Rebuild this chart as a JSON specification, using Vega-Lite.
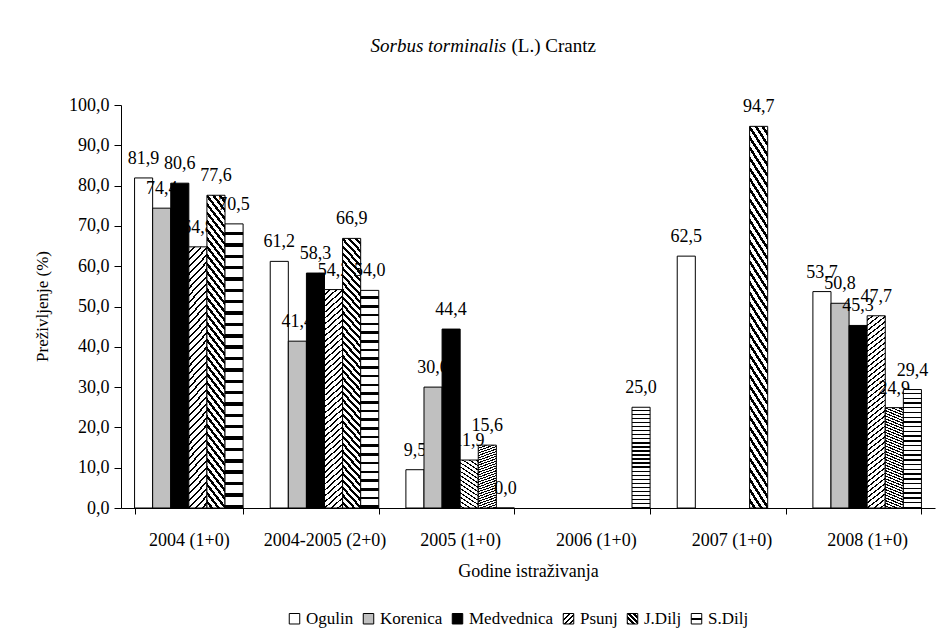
{
  "$schema": "https://vega.github.io/schema/vega-lite/v6.json",
  "width": 814,
  "height": 403,
  "autosize": {"type": "none"},
  "padding": {"left": 121, "top": 105, "right": 3, "bottom": 127},
  "background": "white",
  "resolve": {"axis": {"x": "independent"}},
  "config": {
    "locale": {"number": {"decimal": ",", "thousands": ".", "grouping": [3], "currency": ["", ""]}},
    "view": {"stroke": null},
    "axis": {
      "labelFont": "Liberation Serif",
      "titleFont": "Liberation Serif",
      "labelFontSize": 18,
      "titleFontSize": 18,
      "titleFontWeight": "normal",
      "labelColor": "black",
      "titleColor": "black",
      "domainColor": "black",
      "tickColor": "black",
      "grid": false
    }
  },
  "data": {
    "values": [
      {"year": "2004 (1+0)", "site": "Ogulin", "value": 81.9},
      {"year": "2004 (1+0)", "site": "Korenica", "value": 74.4},
      {"year": "2004 (1+0)", "site": "Medvednica", "value": 80.6},
      {"year": "2004 (1+0)", "site": "Psunj", "value": 64.8},
      {"year": "2004 (1+0)", "site": "J.Dilj", "value": 77.6},
      {"year": "2004 (1+0)", "site": "S.Dilj", "value": 70.5},
      {"year": "2004-2005 (2+0)", "site": "Ogulin", "value": 61.2},
      {"year": "2004-2005 (2+0)", "site": "Korenica", "value": 41.4},
      {"year": "2004-2005 (2+0)", "site": "Medvednica", "value": 58.3},
      {"year": "2004-2005 (2+0)", "site": "Psunj", "value": 54.2},
      {"year": "2004-2005 (2+0)", "site": "J.Dilj", "value": 66.9},
      {"year": "2004-2005 (2+0)", "site": "S.Dilj", "value": 54.0},
      {"year": "2005 (1+0)", "site": "Ogulin", "value": 9.5},
      {"year": "2005 (1+0)", "site": "Korenica", "value": 30.0},
      {"year": "2005 (1+0)", "site": "Medvednica", "value": 44.4},
      {"year": "2005 (1+0)", "site": "Psunj", "value": 11.9},
      {"year": "2005 (1+0)", "site": "J.Dilj", "value": 15.6},
      {"year": "2005 (1+0)", "site": "S.Dilj", "value": 0.0},
      {"year": "2006 (1+0)", "site": "S.Dilj", "value": 25.0},
      {"year": "2007 (1+0)", "site": "Ogulin", "value": 62.5},
      {"year": "2007 (1+0)", "site": "J.Dilj", "value": 94.7},
      {"year": "2008 (1+0)", "site": "Ogulin", "value": 53.7},
      {"year": "2008 (1+0)", "site": "Korenica", "value": 50.8},
      {"year": "2008 (1+0)", "site": "Medvednica", "value": 45.3},
      {"year": "2008 (1+0)", "site": "Psunj", "value": 47.7},
      {"year": "2008 (1+0)", "site": "J.Dilj", "value": 24.9},
      {"year": "2008 (1+0)", "site": "S.Dilj", "value": 29.4}
    ]
  },
  "encoding": {
    "x": {
      "field": "year",
      "type": "nominal",
      "sort": ["2004 (1+0)", "2004-2005 (2+0)", "2005 (1+0)", "2006 (1+0)", "2007 (1+0)", "2008 (1+0)"],
      "scale": {"domain": ["2004 (1+0)", "2004-2005 (2+0)", "2005 (1+0)", "2006 (1+0)", "2007 (1+0)", "2008 (1+0)"], "paddingInner": 0.2, "paddingOuter": 0.1},
      "axis": null
    },
    "xOffset": {
      "field": "site",
      "type": "nominal",
      "scale": {"domain": ["Ogulin", "Korenica", "Medvednica", "Psunj", "J.Dilj", "S.Dilj"], "paddingInner": 0, "paddingOuter": 0}
    },
    "y": {
      "field": "value",
      "type": "quantitative",
      "scale": {"domain": [0, 100], "nice": false},
      "axis": {"title": "Preživljenje (%)", "titleFontSize": 17, "values": [0, 10, 20, 30, 40, 50, 60, 70, 80, 90, 100], "format": ".1f", "tickSize": 7, "labelPadding": 5, "titleX": -79, "titleY": 201, "titleAlign": "center", "titleBaseline": "middle"}
    }
  },
  "layer": [
    {
      "transform": [{"filter": "datum.site === 'Ogulin'"}],
      "mark": {"type": "bar", "stroke": "black", "strokeWidth": 1, "opacity": 1},
      "encoding": {
        "x": {
          "field": "year",
          "type": "nominal",
          "sort": ["2004 (1+0)", "2004-2005 (2+0)", "2005 (1+0)", "2006 (1+0)", "2007 (1+0)", "2008 (1+0)"],
          "scale": {"domain": ["2004 (1+0)", "2004-2005 (2+0)", "2005 (1+0)", "2006 (1+0)", "2007 (1+0)", "2008 (1+0)"], "paddingInner": 0.2, "paddingOuter": 0.1},
          "axis": {"title": "Godine istraživanja", "labelAngle": 0, "tickBand": "extent", "tickSize": 6, "labelPadding": 17, "titlePadding": 13}
        },
        "fill": {
          "field": "site",
          "type": "nominal",
          "scale": {
            "domain": ["Ogulin", "Korenica", "Medvednica", "Psunj", "J.Dilj", "S.Dilj"],
            "range": [
              "#ffffff",
              "#c0c0c0",
              "#000000",
              {"expr": "{id: 'legPsunj', gradient: 'linear', x1: 0, y1: 0, x2: 1, y2: 1, stops: [{offset: 0, color: '#000'}, {offset: 0.1, color: '#000'}, {offset: 0.1, color: '#fff'}, {offset: 0.25, color: '#fff'}, {offset: 0.25, color: '#000'}, {offset: 0.35, color: '#000'}, {offset: 0.35, color: '#fff'}, {offset: 0.5, color: '#fff'}, {offset: 0.5, color: '#000'}, {offset: 0.6, color: '#000'}, {offset: 0.6, color: '#fff'}, {offset: 0.75, color: '#fff'}, {offset: 0.75, color: '#000'}, {offset: 0.85, color: '#000'}, {offset: 0.85, color: '#fff'}, {offset: 1, color: '#fff'}]}"},
              {"expr": "{id: 'legJDilj', gradient: 'linear', x1: 0, y1: 1, x2: 1, y2: 0, stops: [{offset: 0, color: '#000'}, {offset: 0.12, color: '#000'}, {offset: 0.12, color: '#fff'}, {offset: 0.25, color: '#fff'}, {offset: 0.25, color: '#000'}, {offset: 0.37, color: '#000'}, {offset: 0.37, color: '#fff'}, {offset: 0.5, color: '#fff'}, {offset: 0.5, color: '#000'}, {offset: 0.62, color: '#000'}, {offset: 0.62, color: '#fff'}, {offset: 0.75, color: '#fff'}, {offset: 0.75, color: '#000'}, {offset: 0.87, color: '#000'}, {offset: 0.87, color: '#fff'}, {offset: 1, color: '#fff'}]}"},
              {"expr": "{id: 'legSDilj', gradient: 'linear', x1: 0, y1: 0, x2: 0, y2: 1, stops: [{offset: 0, color: '#fff'}, {offset: 0.42, color: '#fff'}, {offset: 0.42, color: '#000'}, {offset: 0.58, color: '#000'}, {offset: 0.58, color: '#fff'}, {offset: 1, color: '#fff'}]}"}
            ]
          },
          "legend": {
            "orient": "none",
            "legendX": 165,
            "legendY": 505,
            "direction": "horizontal",
            "title": null,
            "symbolType": "square",
            "symbolSize": 110,
            "symbolStrokeColor": "black",
            "symbolStrokeWidth": 1,
            "symbolOpacity": 1,
            "labelFont": "Liberation Serif",
            "labelFontSize": 17,
            "labelColor": "black",
            "columnPadding": 6,
            "labelOffset": 3,
            "encoding": {
              "symbols": {
                "stroke": {"value": "black"},
                "strokeWidth": {"value": 1}
              }
            }
          }
        }
      }
    },
    {
      "transform": [{"filter": "datum.site === 'Ogulin'"}],
      "mark": {"type": "text", "baseline": "alphabetic", "align": "center", "dy": -14, "font": "Liberation Serif", "fontSize": 18, "color": "black"},
      "encoding": {
        "x": {
          "field": "year",
          "type": "nominal",
          "sort": ["2004 (1+0)", "2004-2005 (2+0)", "2005 (1+0)", "2006 (1+0)", "2007 (1+0)", "2008 (1+0)"],
          "scale": {"domain": ["2004 (1+0)", "2004-2005 (2+0)", "2005 (1+0)", "2006 (1+0)", "2007 (1+0)", "2008 (1+0)"], "paddingInner": 0.2, "paddingOuter": 0.1},
          "axis": {"orient": "top", "title": "Sorbus torminalis", "titleFontStyle": "italic", "labels": false, "ticks": false, "domain": false, "titleX": 249, "titleY": -54, "titleAlign": "left", "titleAnchor": null, "titleBaseline": "alphabetic", "titleFontSize": 19, "titleAngle": 0}
        },
        "text": {"field": "value", "type": "quantitative", "format": ".1f"}
      }
    },
    {
      "transform": [{"filter": "datum.site === 'Korenica'"}],
      "mark": {"type": "bar", "stroke": "black", "strokeWidth": 1, "opacity": 1, "fill": "#c0c0c0"}
    },
    {
      "transform": [{"filter": "datum.site === 'Korenica'"}],
      "mark": {"type": "text", "baseline": "alphabetic", "align": "center", "dy": -14, "font": "Liberation Serif", "fontSize": 18, "color": "black"},
      "encoding": {
        "x": {
          "field": "year",
          "type": "nominal",
          "sort": ["2004 (1+0)", "2004-2005 (2+0)", "2005 (1+0)", "2006 (1+0)", "2007 (1+0)", "2008 (1+0)"],
          "scale": {"domain": ["2004 (1+0)", "2004-2005 (2+0)", "2005 (1+0)", "2006 (1+0)", "2007 (1+0)", "2008 (1+0)"], "paddingInner": 0.2, "paddingOuter": 0.1},
          "axis": {"orient": "top", "title": "(L.) Crantz", "labels": false, "ticks": false, "domain": false, "titleX": 390, "titleY": -54, "titleAlign": "left", "titleAnchor": null, "titleBaseline": "alphabetic", "titleFontSize": 19, "titleAngle": 0}
        },
        "text": {"field": "value", "type": "quantitative", "format": ".1f"}
      }
    },
    {
      "transform": [{"filter": "datum.site === 'Medvednica'"}],
      "mark": {"type": "bar", "stroke": "black", "strokeWidth": 1, "opacity": 1, "fill": "#000000"}
    },
    {
      "transform": [{"filter": "datum.site === 'Medvednica'"}],
      "mark": {"type": "text", "baseline": "alphabetic", "align": "center", "dy": -14, "font": "Liberation Serif", "fontSize": 18, "color": "black"},
      "encoding": {"text": {"field": "value", "type": "quantitative", "format": ".1f"}}
    },
    {
      "transform": [{"filter": "datum.site === 'Psunj'"}],
      "mark": {"type": "bar", "stroke": "black", "strokeWidth": 1, "opacity": 1,
        "fill": {"id": "barPsunj", "gradient": "linear", "x1": 0, "y1": 0, "x2": 0.08, "y2": 1.08, "stops": [
          {"offset": 0, "color": "#fff"}, {"offset": 0.0175, "color": "#fff"}, {"offset": 0.0175, "color": "#000"}, {"offset": 0.025, "color": "#000"},
          {"offset": 0.025, "color": "#fff"}, {"offset": 0.0425, "color": "#fff"}, {"offset": 0.0425, "color": "#000"}, {"offset": 0.05, "color": "#000"},
          {"offset": 0.05, "color": "#fff"}, {"offset": 0.0675, "color": "#fff"}, {"offset": 0.0675, "color": "#000"}, {"offset": 0.075, "color": "#000"},
          {"offset": 0.075, "color": "#fff"}, {"offset": 0.0925, "color": "#fff"}, {"offset": 0.0925, "color": "#000"}, {"offset": 0.1, "color": "#000"},
          {"offset": 0.1, "color": "#fff"}, {"offset": 0.1175, "color": "#fff"}, {"offset": 0.1175, "color": "#000"}, {"offset": 0.125, "color": "#000"},
          {"offset": 0.125, "color": "#fff"}, {"offset": 0.1425, "color": "#fff"}, {"offset": 0.1425, "color": "#000"}, {"offset": 0.15, "color": "#000"},
          {"offset": 0.15, "color": "#fff"}, {"offset": 0.1675, "color": "#fff"}, {"offset": 0.1675, "color": "#000"}, {"offset": 0.175, "color": "#000"},
          {"offset": 0.175, "color": "#fff"}, {"offset": 0.1925, "color": "#fff"}, {"offset": 0.1925, "color": "#000"}, {"offset": 0.2, "color": "#000"},
          {"offset": 0.2, "color": "#fff"}, {"offset": 0.2175, "color": "#fff"}, {"offset": 0.2175, "color": "#000"}, {"offset": 0.225, "color": "#000"},
          {"offset": 0.225, "color": "#fff"}, {"offset": 0.2425, "color": "#fff"}, {"offset": 0.2425, "color": "#000"}, {"offset": 0.25, "color": "#000"},
          {"offset": 0.25, "color": "#fff"}, {"offset": 0.2675, "color": "#fff"}, {"offset": 0.2675, "color": "#000"}, {"offset": 0.275, "color": "#000"},
          {"offset": 0.275, "color": "#fff"}, {"offset": 0.2925, "color": "#fff"}, {"offset": 0.2925, "color": "#000"}, {"offset": 0.3, "color": "#000"},
          {"offset": 0.3, "color": "#fff"}, {"offset": 0.3175, "color": "#fff"}, {"offset": 0.3175, "color": "#000"}, {"offset": 0.325, "color": "#000"},
          {"offset": 0.325, "color": "#fff"}, {"offset": 0.3425, "color": "#fff"}, {"offset": 0.3425, "color": "#000"}, {"offset": 0.35, "color": "#000"},
          {"offset": 0.35, "color": "#fff"}, {"offset": 0.3675, "color": "#fff"}, {"offset": 0.3675, "color": "#000"}, {"offset": 0.375, "color": "#000"},
          {"offset": 0.375, "color": "#fff"}, {"offset": 0.3925, "color": "#fff"}, {"offset": 0.3925, "color": "#000"}, {"offset": 0.4, "color": "#000"},
          {"offset": 0.4, "color": "#fff"}, {"offset": 0.4175, "color": "#fff"}, {"offset": 0.4175, "color": "#000"}, {"offset": 0.425, "color": "#000"},
          {"offset": 0.425, "color": "#fff"}, {"offset": 0.4425, "color": "#fff"}, {"offset": 0.4425, "color": "#000"}, {"offset": 0.45, "color": "#000"},
          {"offset": 0.45, "color": "#fff"}, {"offset": 0.4675, "color": "#fff"}, {"offset": 0.4675, "color": "#000"}, {"offset": 0.475, "color": "#000"},
          {"offset": 0.475, "color": "#fff"}, {"offset": 0.4925, "color": "#fff"}, {"offset": 0.4925, "color": "#000"}, {"offset": 0.5, "color": "#000"},
          {"offset": 0.5, "color": "#fff"}, {"offset": 0.5175, "color": "#fff"}, {"offset": 0.5175, "color": "#000"}, {"offset": 0.525, "color": "#000"},
          {"offset": 0.525, "color": "#fff"}, {"offset": 0.5425, "color": "#fff"}, {"offset": 0.5425, "color": "#000"}, {"offset": 0.55, "color": "#000"},
          {"offset": 0.55, "color": "#fff"}, {"offset": 0.5675, "color": "#fff"}, {"offset": 0.5675, "color": "#000"}, {"offset": 0.575, "color": "#000"},
          {"offset": 0.575, "color": "#fff"}, {"offset": 0.5925, "color": "#fff"}, {"offset": 0.5925, "color": "#000"}, {"offset": 0.6, "color": "#000"},
          {"offset": 0.6, "color": "#fff"}, {"offset": 0.6175, "color": "#fff"}, {"offset": 0.6175, "color": "#000"}, {"offset": 0.625, "color": "#000"},
          {"offset": 0.625, "color": "#fff"}, {"offset": 0.6425, "color": "#fff"}, {"offset": 0.6425, "color": "#000"}, {"offset": 0.65, "color": "#000"},
          {"offset": 0.65, "color": "#fff"}, {"offset": 0.6675, "color": "#fff"}, {"offset": 0.6675, "color": "#000"}, {"offset": 0.675, "color": "#000"},
          {"offset": 0.675, "color": "#fff"}, {"offset": 0.6925, "color": "#fff"}, {"offset": 0.6925, "color": "#000"}, {"offset": 0.7, "color": "#000"},
          {"offset": 0.7, "color": "#fff"}, {"offset": 0.7175, "color": "#fff"}, {"offset": 0.7175, "color": "#000"}, {"offset": 0.725, "color": "#000"},
          {"offset": 0.725, "color": "#fff"}, {"offset": 0.7425, "color": "#fff"}, {"offset": 0.7425, "color": "#000"}, {"offset": 0.75, "color": "#000"},
          {"offset": 0.75, "color": "#fff"}, {"offset": 0.7675, "color": "#fff"}, {"offset": 0.7675, "color": "#000"}, {"offset": 0.775, "color": "#000"},
          {"offset": 0.775, "color": "#fff"}, {"offset": 0.7925, "color": "#fff"}, {"offset": 0.7925, "color": "#000"}, {"offset": 0.8, "color": "#000"},
          {"offset": 0.8, "color": "#fff"}, {"offset": 0.8175, "color": "#fff"}, {"offset": 0.8175, "color": "#000"}, {"offset": 0.825, "color": "#000"},
          {"offset": 0.825, "color": "#fff"}, {"offset": 0.8425, "color": "#fff"}, {"offset": 0.8425, "color": "#000"}, {"offset": 0.85, "color": "#000"},
          {"offset": 0.85, "color": "#fff"}, {"offset": 0.8675, "color": "#fff"}, {"offset": 0.8675, "color": "#000"}, {"offset": 0.875, "color": "#000"},
          {"offset": 0.875, "color": "#fff"}, {"offset": 0.8925, "color": "#fff"}, {"offset": 0.8925, "color": "#000"}, {"offset": 0.9, "color": "#000"},
          {"offset": 0.9, "color": "#fff"}, {"offset": 0.9175, "color": "#fff"}, {"offset": 0.9175, "color": "#000"}, {"offset": 0.925, "color": "#000"},
          {"offset": 0.925, "color": "#fff"}, {"offset": 0.9425, "color": "#fff"}, {"offset": 0.9425, "color": "#000"}, {"offset": 0.95, "color": "#000"},
          {"offset": 0.95, "color": "#fff"}, {"offset": 0.9675, "color": "#fff"}, {"offset": 0.9675, "color": "#000"}, {"offset": 0.975, "color": "#000"},
          {"offset": 0.975, "color": "#fff"}, {"offset": 0.9925, "color": "#fff"}, {"offset": 0.9925, "color": "#000"}, {"offset": 1, "color": "#000"}
        ]}
      }
    },
    {
      "transform": [{"filter": "datum.site === 'Psunj'"}],
      "mark": {"type": "text", "baseline": "alphabetic", "align": "center", "dy": -14, "font": "Liberation Serif", "fontSize": 18, "color": "black"},
      "encoding": {"text": {"field": "value", "type": "quantitative", "format": ".1f"}}
    },
    {
      "transform": [{"filter": "datum.site === 'J.Dilj'"}],
      "mark": {"type": "bar", "stroke": "black", "strokeWidth": 1, "opacity": 1,
        "fill": {"id": "barJDilj", "gradient": "linear", "x1": 0, "y1": 1, "x2": 0.08, "y2": -0.08, "stops": [
          {"offset": 0, "color": "#fff"}, {"offset": 0.014, "color": "#fff"}, {"offset": 0.014, "color": "#000"}, {"offset": 0.025, "color": "#000"},
          {"offset": 0.025, "color": "#fff"}, {"offset": 0.039, "color": "#fff"}, {"offset": 0.039, "color": "#000"}, {"offset": 0.05, "color": "#000"},
          {"offset": 0.05, "color": "#fff"}, {"offset": 0.064, "color": "#fff"}, {"offset": 0.064, "color": "#000"}, {"offset": 0.075, "color": "#000"},
          {"offset": 0.075, "color": "#fff"}, {"offset": 0.089, "color": "#fff"}, {"offset": 0.089, "color": "#000"}, {"offset": 0.1, "color": "#000"},
          {"offset": 0.1, "color": "#fff"}, {"offset": 0.114, "color": "#fff"}, {"offset": 0.114, "color": "#000"}, {"offset": 0.125, "color": "#000"},
          {"offset": 0.125, "color": "#fff"}, {"offset": 0.139, "color": "#fff"}, {"offset": 0.139, "color": "#000"}, {"offset": 0.15, "color": "#000"},
          {"offset": 0.15, "color": "#fff"}, {"offset": 0.164, "color": "#fff"}, {"offset": 0.164, "color": "#000"}, {"offset": 0.175, "color": "#000"},
          {"offset": 0.175, "color": "#fff"}, {"offset": 0.189, "color": "#fff"}, {"offset": 0.189, "color": "#000"}, {"offset": 0.2, "color": "#000"},
          {"offset": 0.2, "color": "#fff"}, {"offset": 0.214, "color": "#fff"}, {"offset": 0.214, "color": "#000"}, {"offset": 0.225, "color": "#000"},
          {"offset": 0.225, "color": "#fff"}, {"offset": 0.239, "color": "#fff"}, {"offset": 0.239, "color": "#000"}, {"offset": 0.25, "color": "#000"},
          {"offset": 0.25, "color": "#fff"}, {"offset": 0.264, "color": "#fff"}, {"offset": 0.264, "color": "#000"}, {"offset": 0.275, "color": "#000"},
          {"offset": 0.275, "color": "#fff"}, {"offset": 0.289, "color": "#fff"}, {"offset": 0.289, "color": "#000"}, {"offset": 0.3, "color": "#000"},
          {"offset": 0.3, "color": "#fff"}, {"offset": 0.314, "color": "#fff"}, {"offset": 0.314, "color": "#000"}, {"offset": 0.325, "color": "#000"},
          {"offset": 0.325, "color": "#fff"}, {"offset": 0.339, "color": "#fff"}, {"offset": 0.339, "color": "#000"}, {"offset": 0.35, "color": "#000"},
          {"offset": 0.35, "color": "#fff"}, {"offset": 0.364, "color": "#fff"}, {"offset": 0.364, "color": "#000"}, {"offset": 0.375, "color": "#000"},
          {"offset": 0.375, "color": "#fff"}, {"offset": 0.389, "color": "#fff"}, {"offset": 0.389, "color": "#000"}, {"offset": 0.4, "color": "#000"},
          {"offset": 0.4, "color": "#fff"}, {"offset": 0.414, "color": "#fff"}, {"offset": 0.414, "color": "#000"}, {"offset": 0.425, "color": "#000"},
          {"offset": 0.425, "color": "#fff"}, {"offset": 0.439, "color": "#fff"}, {"offset": 0.439, "color": "#000"}, {"offset": 0.45, "color": "#000"},
          {"offset": 0.45, "color": "#fff"}, {"offset": 0.464, "color": "#fff"}, {"offset": 0.464, "color": "#000"}, {"offset": 0.475, "color": "#000"},
          {"offset": 0.475, "color": "#fff"}, {"offset": 0.489, "color": "#fff"}, {"offset": 0.489, "color": "#000"}, {"offset": 0.5, "color": "#000"},
          {"offset": 0.5, "color": "#fff"}, {"offset": 0.514, "color": "#fff"}, {"offset": 0.514, "color": "#000"}, {"offset": 0.525, "color": "#000"},
          {"offset": 0.525, "color": "#fff"}, {"offset": 0.539, "color": "#fff"}, {"offset": 0.539, "color": "#000"}, {"offset": 0.55, "color": "#000"},
          {"offset": 0.55, "color": "#fff"}, {"offset": 0.564, "color": "#fff"}, {"offset": 0.564, "color": "#000"}, {"offset": 0.575, "color": "#000"},
          {"offset": 0.575, "color": "#fff"}, {"offset": 0.589, "color": "#fff"}, {"offset": 0.589, "color": "#000"}, {"offset": 0.6, "color": "#000"},
          {"offset": 0.6, "color": "#fff"}, {"offset": 0.614, "color": "#fff"}, {"offset": 0.614, "color": "#000"}, {"offset": 0.625, "color": "#000"},
          {"offset": 0.625, "color": "#fff"}, {"offset": 0.639, "color": "#fff"}, {"offset": 0.639, "color": "#000"}, {"offset": 0.65, "color": "#000"},
          {"offset": 0.65, "color": "#fff"}, {"offset": 0.664, "color": "#fff"}, {"offset": 0.664, "color": "#000"}, {"offset": 0.675, "color": "#000"},
          {"offset": 0.675, "color": "#fff"}, {"offset": 0.689, "color": "#fff"}, {"offset": 0.689, "color": "#000"}, {"offset": 0.7, "color": "#000"},
          {"offset": 0.7, "color": "#fff"}, {"offset": 0.714, "color": "#fff"}, {"offset": 0.714, "color": "#000"}, {"offset": 0.725, "color": "#000"},
          {"offset": 0.725, "color": "#fff"}, {"offset": 0.739, "color": "#fff"}, {"offset": 0.739, "color": "#000"}, {"offset": 0.75, "color": "#000"},
          {"offset": 0.75, "color": "#fff"}, {"offset": 0.764, "color": "#fff"}, {"offset": 0.764, "color": "#000"}, {"offset": 0.775, "color": "#000"},
          {"offset": 0.775, "color": "#fff"}, {"offset": 0.789, "color": "#fff"}, {"offset": 0.789, "color": "#000"}, {"offset": 0.8, "color": "#000"},
          {"offset": 0.8, "color": "#fff"}, {"offset": 0.814, "color": "#fff"}, {"offset": 0.814, "color": "#000"}, {"offset": 0.825, "color": "#000"},
          {"offset": 0.825, "color": "#fff"}, {"offset": 0.839, "color": "#fff"}, {"offset": 0.839, "color": "#000"}, {"offset": 0.85, "color": "#000"},
          {"offset": 0.85, "color": "#fff"}, {"offset": 0.864, "color": "#fff"}, {"offset": 0.864, "color": "#000"}, {"offset": 0.875, "color": "#000"},
          {"offset": 0.875, "color": "#fff"}, {"offset": 0.889, "color": "#fff"}, {"offset": 0.889, "color": "#000"}, {"offset": 0.9, "color": "#000"},
          {"offset": 0.9, "color": "#fff"}, {"offset": 0.914, "color": "#fff"}, {"offset": 0.914, "color": "#000"}, {"offset": 0.925, "color": "#000"},
          {"offset": 0.925, "color": "#fff"}, {"offset": 0.939, "color": "#fff"}, {"offset": 0.939, "color": "#000"}, {"offset": 0.95, "color": "#000"},
          {"offset": 0.95, "color": "#fff"}, {"offset": 0.964, "color": "#fff"}, {"offset": 0.964, "color": "#000"}, {"offset": 0.975, "color": "#000"},
          {"offset": 0.975, "color": "#fff"}, {"offset": 0.989, "color": "#fff"}, {"offset": 0.989, "color": "#000"}, {"offset": 1, "color": "#000"}
        ]}
      }
    },
    {
      "transform": [{"filter": "datum.site === 'J.Dilj'"}],
      "mark": {"type": "text", "baseline": "alphabetic", "align": "center", "dy": -14, "font": "Liberation Serif", "fontSize": 18, "color": "black"},
      "encoding": {"text": {"field": "value", "type": "quantitative", "format": ".1f"}}
    },
    {
      "transform": [{"filter": "datum.site === 'S.Dilj'"}],
      "mark": {"type": "bar", "stroke": "black", "strokeWidth": 1, "opacity": 1,
        "fill": {"id": "barSDilj", "gradient": "linear", "x1": 0, "y1": 0, "x2": 0, "y2": 1, "stops": [
          {"offset": 0, "color": "#fff"}, {"offset": 0.028, "color": "#fff"}, {"offset": 0.028, "color": "#000"}, {"offset": 0.04, "color": "#000"},
          {"offset": 0.04, "color": "#fff"}, {"offset": 0.068, "color": "#fff"}, {"offset": 0.068, "color": "#000"}, {"offset": 0.08, "color": "#000"},
          {"offset": 0.08, "color": "#fff"}, {"offset": 0.108, "color": "#fff"}, {"offset": 0.108, "color": "#000"}, {"offset": 0.12, "color": "#000"},
          {"offset": 0.12, "color": "#fff"}, {"offset": 0.148, "color": "#fff"}, {"offset": 0.148, "color": "#000"}, {"offset": 0.16, "color": "#000"},
          {"offset": 0.16, "color": "#fff"}, {"offset": 0.188, "color": "#fff"}, {"offset": 0.188, "color": "#000"}, {"offset": 0.2, "color": "#000"},
          {"offset": 0.2, "color": "#fff"}, {"offset": 0.228, "color": "#fff"}, {"offset": 0.228, "color": "#000"}, {"offset": 0.24, "color": "#000"},
          {"offset": 0.24, "color": "#fff"}, {"offset": 0.268, "color": "#fff"}, {"offset": 0.268, "color": "#000"}, {"offset": 0.28, "color": "#000"},
          {"offset": 0.28, "color": "#fff"}, {"offset": 0.308, "color": "#fff"}, {"offset": 0.308, "color": "#000"}, {"offset": 0.32, "color": "#000"},
          {"offset": 0.32, "color": "#fff"}, {"offset": 0.348, "color": "#fff"}, {"offset": 0.348, "color": "#000"}, {"offset": 0.36, "color": "#000"},
          {"offset": 0.36, "color": "#fff"}, {"offset": 0.388, "color": "#fff"}, {"offset": 0.388, "color": "#000"}, {"offset": 0.4, "color": "#000"},
          {"offset": 0.4, "color": "#fff"}, {"offset": 0.428, "color": "#fff"}, {"offset": 0.428, "color": "#000"}, {"offset": 0.44, "color": "#000"},
          {"offset": 0.44, "color": "#fff"}, {"offset": 0.468, "color": "#fff"}, {"offset": 0.468, "color": "#000"}, {"offset": 0.48, "color": "#000"},
          {"offset": 0.48, "color": "#fff"}, {"offset": 0.508, "color": "#fff"}, {"offset": 0.508, "color": "#000"}, {"offset": 0.52, "color": "#000"},
          {"offset": 0.52, "color": "#fff"}, {"offset": 0.548, "color": "#fff"}, {"offset": 0.548, "color": "#000"}, {"offset": 0.56, "color": "#000"},
          {"offset": 0.56, "color": "#fff"}, {"offset": 0.588, "color": "#fff"}, {"offset": 0.588, "color": "#000"}, {"offset": 0.6, "color": "#000"},
          {"offset": 0.6, "color": "#fff"}, {"offset": 0.628, "color": "#fff"}, {"offset": 0.628, "color": "#000"}, {"offset": 0.64, "color": "#000"},
          {"offset": 0.64, "color": "#fff"}, {"offset": 0.668, "color": "#fff"}, {"offset": 0.668, "color": "#000"}, {"offset": 0.68, "color": "#000"},
          {"offset": 0.68, "color": "#fff"}, {"offset": 0.708, "color": "#fff"}, {"offset": 0.708, "color": "#000"}, {"offset": 0.72, "color": "#000"},
          {"offset": 0.72, "color": "#fff"}, {"offset": 0.748, "color": "#fff"}, {"offset": 0.748, "color": "#000"}, {"offset": 0.76, "color": "#000"},
          {"offset": 0.76, "color": "#fff"}, {"offset": 0.788, "color": "#fff"}, {"offset": 0.788, "color": "#000"}, {"offset": 0.8, "color": "#000"},
          {"offset": 0.8, "color": "#fff"}, {"offset": 0.828, "color": "#fff"}, {"offset": 0.828, "color": "#000"}, {"offset": 0.84, "color": "#000"},
          {"offset": 0.84, "color": "#fff"}, {"offset": 0.868, "color": "#fff"}, {"offset": 0.868, "color": "#000"}, {"offset": 0.88, "color": "#000"},
          {"offset": 0.88, "color": "#fff"}, {"offset": 0.908, "color": "#fff"}, {"offset": 0.908, "color": "#000"}, {"offset": 0.92, "color": "#000"},
          {"offset": 0.92, "color": "#fff"}, {"offset": 0.948, "color": "#fff"}, {"offset": 0.948, "color": "#000"}, {"offset": 0.96, "color": "#000"},
          {"offset": 0.96, "color": "#fff"}, {"offset": 0.988, "color": "#fff"}, {"offset": 0.988, "color": "#000"}, {"offset": 1, "color": "#000"}
        ]}
      }
    },
    {
      "transform": [{"filter": "datum.site === 'S.Dilj'"}],
      "mark": {"type": "text", "baseline": "alphabetic", "align": "center", "dy": -14, "font": "Liberation Serif", "fontSize": 18, "color": "black"},
      "encoding": {"text": {"field": "value", "type": "quantitative", "format": ".1f"}}
    }
  ]
}
